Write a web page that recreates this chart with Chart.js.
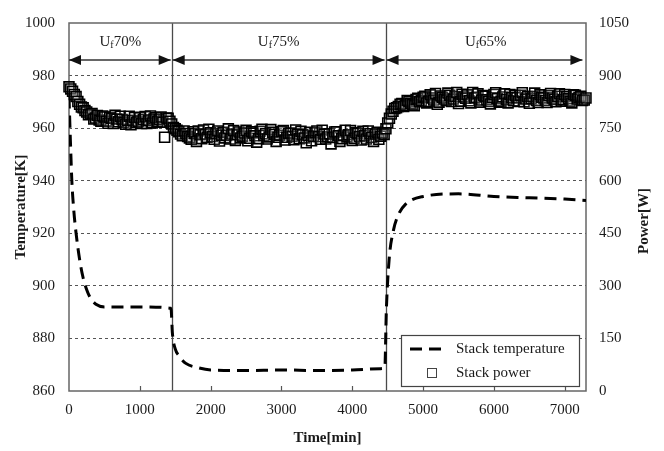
<!DOCTYPE html>
<html>
<head>
<meta charset="utf-8">
<script src="https://cdn.jsdelivr.net/npm/chart.js@4.4.1/dist/chart.umd.min.js"></script>
<style>
  html, body { margin: 0; padding: 0; background: #fff; }
  #wrap { width: 664px; height: 451px; }
</style>
</head>
<body>
<div id="wrap"><canvas id="chart" width="664" height="451"></canvas></div>
<script>
// stack temperature [K] vs time [min]
const tempTime = [0, 20, 40, 70, 100, 150, 200, 250, 300, 380, 500, 1000, 1440,
    1460, 1500, 1550, 1650, 1800, 2000, 2500, 3000, 3500, 4000, 4400, 4460,
    4480, 4520, 4580, 4650, 4750, 5000, 5500, 6000, 6500, 7000, 7300];
const tempValues = [972, 955, 940, 928, 920, 910, 903, 898.5, 895.5, 893, 892, 892, 891.5,
    882, 876, 873.5, 870.5, 869, 868, 867.8, 868, 867.8, 868, 868.5, 869,
    890, 910, 921, 927, 931, 934, 935, 934, 933.5, 933, 932.5];

// stack power [W], readings on the hour marks (every 50 min)
const powerTime = [0, 50, 100, 150, 200, 250, 300, 350, 400, 450, 500, 550, 600, 650, 700,
    750, 800, 850, 900, 950, 1000, 1050, 1100, 1150, 1200, 1250, 1300, 1350, 1400, 1450,
    1500, 1550, 1600, 1650, 1700, 1750, 1800, 1850, 1900, 1950, 2000, 2050, 2100, 2150,
    2200, 2250, 2300, 2350, 2400, 2450, 2500, 2550, 2600, 2650, 2700, 2750, 2800, 2850,
    2900, 2950, 3000, 3050, 3100, 3150, 3200, 3250, 3300, 3350, 3400, 3450, 3500, 3550,
    3600, 3650, 3700, 3750, 3800, 3850, 3900, 3950, 4000, 4050, 4100, 4150, 4200, 4250,
    4300, 4350, 4400, 4450, 4500, 4550, 4600, 4650, 4700, 4750, 4800, 4850, 4900, 4950,
    5000, 5050, 5100, 5150, 5200, 5250, 5300, 5350, 5400, 5450, 5500, 5550, 5600, 5650,
    5700, 5750, 5800, 5850, 5900, 5950, 6000, 6050, 6100, 6150, 6200, 6250, 6300, 6350,
    6400, 6450, 6500, 6550, 6600, 6650, 6700, 6750, 6800, 6850, 6900, 6950, 7000, 7050,
    7100, 7150, 7200, 7250, 7300];
const powerValues = [868, 855, 840, 818, 808, 796, 790, 776, 786, 770, 782, 764, 778, 787, 768,
    775, 761, 784, 772, 766, 780, 774, 763, 785, 776, 769, 782, 724, 778, 762,
    748, 740, 728, 735, 722, 740, 712, 731, 745, 724, 737, 718, 742, 730,
    722, 748, 733, 715, 739, 727, 744, 721, 736, 710, 741, 729, 719, 746,
    732, 724, 740, 716, 735, 727, 745, 720, 731, 708, 738, 726, 742, 718,
    733, 725, 705, 739, 728, 720, 744, 731, 715, 737, 726, 741, 719, 734,
    712, 738, 727, 732, 765, 790, 806, 812, 820, 815, 826, 818, 832, 825,
    838, 822, 845, 830, 818, 842, 833, 850, 826, 840, 820, 847, 835, 828,
    852, 838, 824, 843, 831, 819, 846, 834, 827, 848, 822, 837, 843, 826,
    851, 833, 821, 840, 829, 845, 836, 823, 849, 832, 841, 827, 846, 834,
    822, 844, 838, 829, 836];

// stack power [W], readings in between (offset 25 min)
const powerTimeB = [25, 75, 125, 175, 225, 275, 325, 375, 425, 475, 525, 575, 625, 675, 725,
    775, 825, 875, 925, 975, 1025, 1075, 1125, 1175, 1225, 1275, 1325, 1375, 1425,
    1475, 1525, 1575, 1625, 1675, 1725, 1775, 1825, 1875, 1925, 1975, 2025, 2075, 2125,
    2175, 2225, 2275, 2325, 2375, 2425, 2475, 2525, 2575, 2625, 2675, 2725, 2775, 2825,
    2875, 2925, 2975, 3025, 3075, 3125, 3175, 3225, 3275, 3325, 3375, 3425, 3475, 3525,
    3575, 3625, 3675, 3725, 3775, 3825, 3875, 3925, 3975, 4025, 4075, 4125, 4175, 4225,
    4275, 4325, 4375, 4425,
    4475, 4525, 4575, 4625, 4675, 4725, 4775, 4825, 4875, 4925, 4975, 5025, 5075, 5125,
    5175, 5225, 5275, 5325, 5375, 5425, 5475, 5525, 5575, 5625, 5675, 5725, 5775, 5825,
    5875, 5925, 5975, 6025, 6075, 6125, 6175, 6225, 6275, 6325, 6375, 6425, 6475, 6525,
    6575, 6625, 6675, 6725, 6775, 6825, 6875, 6925, 6975, 7025, 7075, 7125, 7175, 7225,
    7275];
const powerValuesB = [862, 846, 826, 810, 800, 788, 792, 779, 773, 785, 770, 781, 763, 776, 784,
    766, 772, 760, 781, 769, 763, 783, 771, 765, 780, 774, 767, 779, 770,
    752, 744, 733, 742, 726, 718, 735, 742, 720, 733, 747, 726, 734, 713,
    738, 729, 719, 743, 731, 722, 736, 714, 740, 728, 720, 747, 734, 725,
    738, 712, 730, 743, 724, 736, 717, 733, 741, 722, 729, 714, 737, 726,
    744, 719, 734, 723, 740, 712, 730, 725, 743, 721, 735, 716, 729, 742,
    724, 733, 718, 736,
    748, 778, 798, 808, 818, 812, 829, 821, 814, 835, 828, 841, 826, 836,
    849, 824, 838, 829, 844, 833, 852, 827, 839, 845, 822, 836, 848, 830,
    841, 826, 837, 851, 824, 839, 832, 846, 828, 837, 844, 825, 840, 834,
    850, 823, 838, 829, 843, 836, 825, 848, 831, 840, 827, 845, 833, 841,
    830];

// fuel utilisation phases
const phaseBounds = [0, 1450, 4470, 7250];
const phaseLabels = ['70%', '75%', '65%'];

const SERIF = '"Liberation Serif", "DejaVu Serif", serif';
const INK = '#1a1a1a';

function xy(xs, ys) {
    return xs.map((x, i) => ({ x, y: ys[i] }));
}

function arrowHead(ctx, tipX, y, dir) {
    ctx.beginPath();
    ctx.moveTo(tipX, y);
    ctx.lineTo(tipX + dir * 12, y - 5);
    ctx.lineTo(tipX + dir * 12, y + 5);
    ctx.closePath();
    ctx.fill();
}

const powerPoints = xy(powerTime, powerValues)
    .concat(xy(powerTimeB, powerValuesB))
    .sort((p, q) => p.x - q.x);

const decorations = {
    id: 'decorations',
    beforeDatasetsDraw(chart) {
        const { ctx, chartArea: a, scales } = chart;
        ctx.save();
        // phase dividers
        ctx.strokeStyle = '#4a4a4a';
        ctx.lineWidth = 1.3;
        phaseBounds.slice(1, 3).forEach((t) => {
            const px = Math.round(scales.x.getPixelForValue(t)) + 0.5;
            ctx.beginPath();
            ctx.moveTo(px, a.top);
            ctx.lineTo(px, a.bottom);
            ctx.stroke();
        });
        // inner x ticks
        ctx.strokeStyle = '#555';
        ctx.lineWidth = 1.2;
        for (let t = 1000; t <= 7000; t += 1000) {
            const px = Math.round(scales.x.getPixelForValue(t)) + 0.5;
            ctx.beginPath();
            ctx.moveTo(px, a.bottom);
            ctx.lineTo(px, a.bottom - 5);
            ctx.stroke();
        }
        // frame
        ctx.strokeStyle = '#666';
        ctx.lineWidth = 1.5;
        ctx.strokeRect(a.left, a.top, a.right - a.left, a.bottom - a.top);

        // phase arrows and labels
        const ay = a.top + 37;
        ctx.strokeStyle = '#333';
        ctx.fillStyle = '#111';
        ctx.lineWidth = 1.3;
        for (let i = 0; i < phaseLabels.length; i++) {
            const x1 = scales.x.getPixelForValue(phaseBounds[i]) + (i === 0 ? 0 : 1);
            const x2 = scales.x.getPixelForValue(phaseBounds[i + 1]) - (i === 2 ? 0 : 1);
            ctx.beginPath();
            ctx.moveTo(x1, ay);
            ctx.lineTo(x2, ay);
            ctx.stroke();
            arrowHead(ctx, x1, ay, 1);
            arrowHead(ctx, x2, ay, -1);

            const cx = (scales.x.getPixelForValue(phaseBounds[i]) +
                scales.x.getPixelForValue(i === 2 ? 7300 : phaseBounds[i + 1])) / 2;
            ctx.font = `15px ${SERIF}`;
            const wU = ctx.measureText('U').width;
            const wP = ctx.measureText(phaseLabels[i]).width;
            ctx.font = `10px ${SERIF}`;
            const wF = ctx.measureText('f').width;
            const sx = cx - (wU + wF + wP) / 2;
            const by = a.top + 23;
            ctx.fillStyle = '#222';
            ctx.textBaseline = 'alphabetic';
            ctx.textAlign = 'left';
            ctx.font = `15px ${SERIF}`;
            ctx.fillText('U', sx, by);
            ctx.font = `10px ${SERIF}`;
            ctx.fillText('f', sx + wU, by + 2);
            ctx.font = `15px ${SERIF}`;
            ctx.fillText(phaseLabels[i], sx + wU + wF, by);
            ctx.fillStyle = '#111';
        }
        ctx.restore();
    },
    afterDraw(chart) {
        const { ctx, chartArea: a, scales } = chart;
        ctx.save();
        // x tick labels
        ctx.fillStyle = INK;
        ctx.font = `15px ${SERIF}`;
        ctx.textAlign = 'center';
        ctx.textBaseline = 'middle';
        for (let t = 0; t <= 7000; t += 1000) {
            ctx.fillText(String(t), scales.x.getPixelForValue(t), 410);
        }
        // axis titles
        ctx.font = `bold 15px ${SERIF}`;
        ctx.fillText('Time[min]', (a.left + a.right) / 2, 438);
        ctx.translate(21, (a.top + a.bottom) / 2);
        ctx.rotate(-Math.PI / 2);
        ctx.fillText('Temperature[K]', 0, 0);
        ctx.setTransform(1, 0, 0, 1, 0, 0);
        ctx.translate(644, 221);
        ctx.rotate(-Math.PI / 2);
        ctx.fillText('Power[W]', 0, 0);
        ctx.setTransform(1, 0, 0, 1, 0, 0);

        // legend box
        const lx = 401, ly = 335, lw = 178, lh = 51;
        ctx.fillStyle = '#fff';
        ctx.fillRect(lx, ly, lw, lh);
        ctx.strokeStyle = '#444';
        ctx.lineWidth = 1.2;
        ctx.strokeRect(lx + 0.5, ly + 0.5, lw, lh);
        ctx.strokeStyle = '#000';
        ctx.lineWidth = 3;
        ctx.setLineDash([12, 7]);
        ctx.beginPath();
        ctx.moveTo(410, 349);
        ctx.lineTo(445, 349);
        ctx.stroke();
        ctx.setLineDash([]);
        ctx.fillStyle = '#fff';
        ctx.strokeStyle = '#444';
        ctx.lineWidth = 1;
        ctx.fillRect(427, 368, 9, 9);
        ctx.strokeRect(427.5, 368.5, 9, 9);
        ctx.fillStyle = INK;
        ctx.font = `15px ${SERIF}`;
        ctx.textAlign = 'left';
        ctx.fillText('Stack temperature', 456, 349);
        ctx.fillText('Stack power', 456, 373);
        ctx.restore();
    },
};

new Chart(document.getElementById('chart'), {
    data: {
        datasets: [
            {
                type: 'line',
                label: 'Stack temperature',
                data: xy(tempTime, tempValues),
                yAxisID: 'y',
                borderColor: '#000',
                borderWidth: 3,
                borderDash: [12, 7],
                pointRadius: 0,
                cubicInterpolationMode: 'monotone',
                fill: false,
                order: 2,
            },
            {
                type: 'scatter',
                label: 'Stack power',
                data: powerPoints,
                yAxisID: 'y1',
                pointStyle: 'rect',
                pointRadius: 7,
                borderWidth: 1.6,
                borderColor: '#000',
                backgroundColor: 'rgba(255,255,255,0.12)',
                clip: false,
                order: 1,
            },
        ],
    },
    options: {
        responsive: false,
        animation: false,
        layout: { padding: { top: 15, left: 0, right: 0, bottom: 0 } },
        plugins: {
            legend: { display: false },
            tooltip: { enabled: false },
        },
        scales: {
            x: {
                type: 'linear',
                min: 0,
                max: 7300,
                afterFit(scale) { scale.height = 60; },
                grid: { display: false },
                border: { display: false },
                ticks: { display: false, stepSize: 1000 },
            },
            y: {
                position: 'left',
                min: 860,
                max: 1000,
                afterFit(scale) { scale.width = 69; },
                grid: {
                    drawTicks: false,
                    lineWidth: 1,
                    color(c) {
                        const v = c.tick && c.tick.value;
                        return v === 860 || v === 1000 ? 'transparent' : '#555';
                    },
                },
                border: { display: false, dash: [3, 3] },
                ticks: {
                    stepSize: 20,
                    padding: 14,
                    color: INK,
                    font: { family: SERIF, size: 15 },
                    callback(v) { return String(v); },
                },
            },
            y1: {
                position: 'right',
                min: 0,
                max: 1050,
                afterFit(scale) { scale.width = 78; },
                grid: { display: false, drawTicks: false },
                border: { display: false },
                ticks: {
                    stepSize: 150,
                    padding: 13,
                    color: INK,
                    font: { family: SERIF, size: 15 },
                    callback(v) { return String(v); },
                },
            },
        },
    },
    plugins: [decorations],
});
</script>
</body>
</html>
